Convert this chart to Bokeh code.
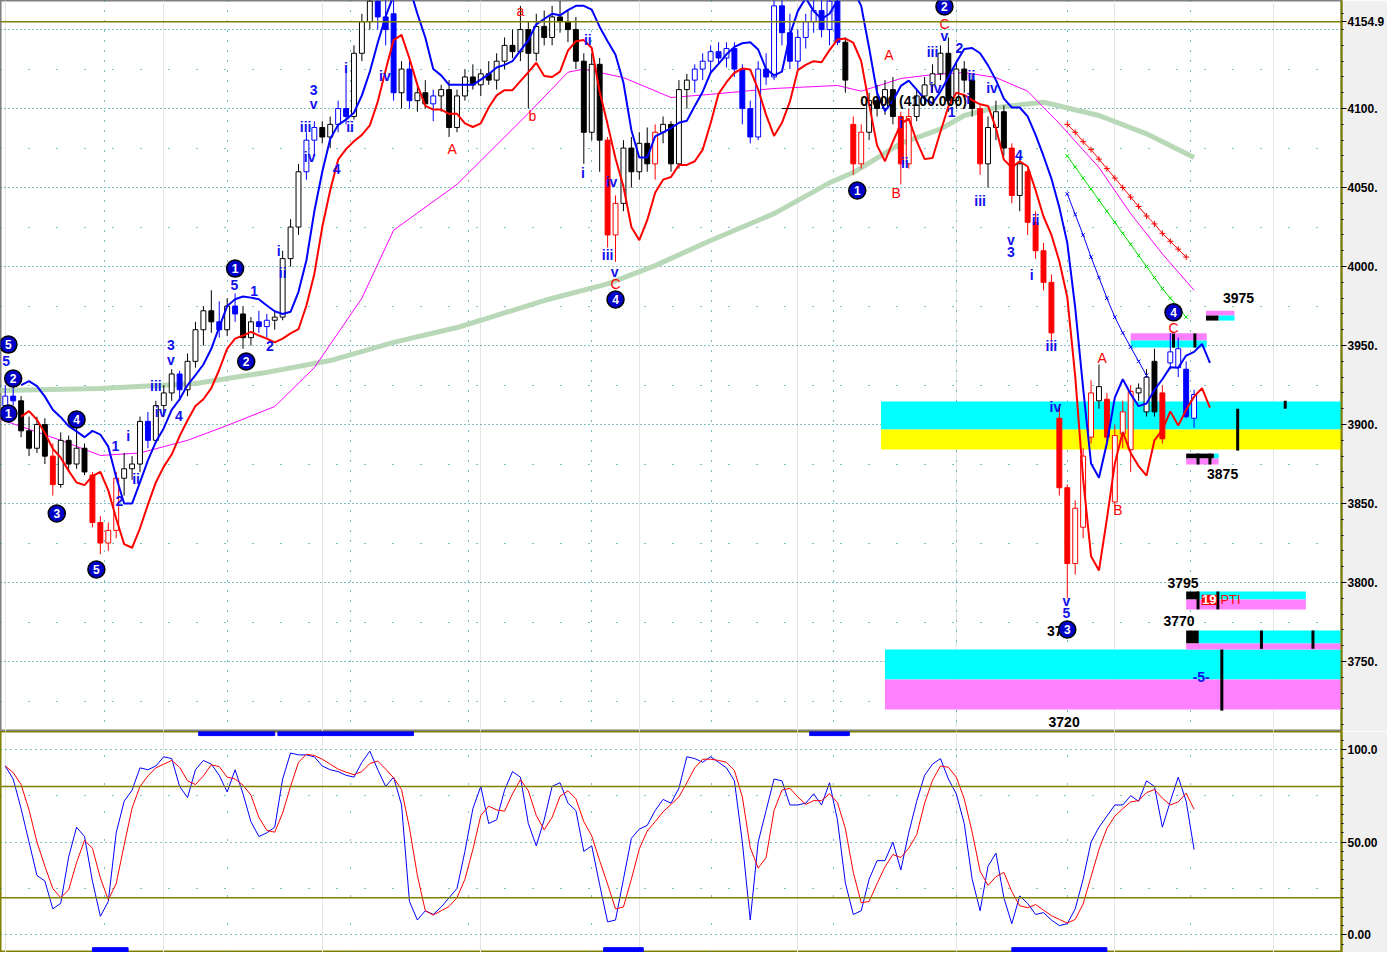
import numpy as np
import pandas as pd
from bokeh.plotting import figure
from bokeh.models import (ColumnDataSource, Range1d, FixedTicker,
                          Span, Grid, SingleIntervalTicker)
from bokeh.layouts import column
from bokeh.embed import file_html
from bokeh.resources import INLINE
from bokeh.core.properties import value

# ---------------- data (bar index = position along the time axis) ----------------
OPEN = [3912,3918,3915,3896,3885,3900,3880,3862,3890,3875,
        3885,3868,3838,3825,3833,3866,3872,3875,3902,3890,
        3912,3920,3932,3922,3940,3960,3972,3965,3960,3975,
        3970,3955,3965,3962,3966,3968,4005,4025,4060,4080,
        4088,4082,4090,4100,4095,4135,4155,4168,4158,4160,
        4110,4125,4105,4110,4103,4108,4112,4088,4108,4120,
        4115,4122,4118,4130,4140,4136,4150,4135,4152,4145,
        4158,4155,4150,4130,4085,4128,4080,4020,4040,4075,
        4060,4078,4065,4085,4090,4065,4112,4118,4125,4130,
        4136,4132,4138,4125,4100,4082,4125,4120,4165,4148,
        4130,4145,4155,4162,4150,4168,4142,4090,4065,4085,
        4105,4100,4112,4095,4065,4095,4108,4115,4122,4135,
        4105,4125,4118,4100,4065,4088,4098,4075,4045,4060,
        4028,4010,3990,3904,3860,3812,3835,3892,3915,3916,
        3851,3894,3884,3920,3908,3940,3920,3939,3936,3935,
        3904]
HIGH = [3925,3930,3918,3905,3905,3904,3888,3895,3893,3900,
        3888,3870,3842,3838,3870,3882,3880,3905,3908,3915,
        3925,3935,3934,3945,3965,3975,3985,3978,3980,3983,
        3975,3968,3972,3970,3972,4010,4030,4065,4085,4092,
        4092,4095,4105,4125,4140,4160,4175,4180,4175,4175,
        4130,4130,4115,4118,4112,4115,4118,4112,4125,4128,
        4125,4130,4135,4145,4150,4165,4155,4160,4162,4165,
        4168,4162,4158,4135,4135,4132,4082,4045,4080,4082,
        4085,4088,4090,4095,4092,4118,4122,4128,4135,4140,
        4142,4142,4142,4128,4105,4130,4135,4175,4175,4160,
        4150,4160,4170,4175,4175,4175,4145,4095,4090,4110,
        4115,4118,4120,4098,4100,4112,4120,4128,4140,4145,
        4130,4130,4122,4102,4095,4105,4102,4078,4070,4062,
        4035,4015,3995,3912,3862,3852,3885,3928,3938,3920,
        3900,3915,3925,3926,3935,3948,3925,3958,3955,3940,
        3922]
LOW = [3905,3912,3892,3880,3882,3875,3855,3860,3870,3872,
       3868,3835,3818,3820,3828,3855,3865,3870,3885,3888,
       3905,3915,3915,3918,3936,3950,3958,3955,3956,3965,
       3948,3950,3958,3955,3960,3966,4000,4020,4055,4070,
       4078,4075,4085,4090,4093,4130,4150,4150,4140,4105,
       4100,4100,4098,4100,4092,4098,4082,4085,4105,4112,
       4108,4115,4112,4125,4132,4130,4100,4130,4140,4140,
       4148,4142,4125,4065,4080,4060,4012,4003,4035,4050,
       4055,4060,4055,4078,4060,4062,4100,4110,4118,4122,
       4128,4126,4120,4090,4078,4080,4115,4118,4140,4125,
       4125,4138,4148,4145,4140,4140,4110,4058,4062,4080,
       4095,4096,4090,4052,4062,4092,4102,4110,4118,4098,
       4100,4110,4095,4058,4050,4080,4070,4040,4035,4020,
       4005,3985,3952,3855,3790,3805,3828,3888,3910,3888,
       3848,3885,3870,3915,3905,3905,3888,3935,3930,3904,
       3898]
CLOSE = [3918,3915,3896,3885,3900,3880,3862,3890,3875,3885,
         3870,3838,3825,3833,3866,3872,3875,3902,3890,3912,
         3920,3932,3922,3940,3960,3972,3965,3960,3975,3970,
         3955,3965,3962,3966,3968,4005,4025,4060,4080,4088,
         4082,4090,4100,4095,4135,4155,4168,4158,4150,4110,
         4125,4105,4110,4103,4108,4112,4088,4108,4120,4115,
         4122,4118,4130,4140,4136,4150,4135,4152,4145,4158,
         4155,4150,4130,4085,4128,4080,4020,4040,4075,4060,
         4078,4065,4085,4090,4065,4112,4118,4125,4130,4136,
         4132,4138,4125,4100,4082,4125,4120,4165,4148,4130,
         4145,4155,4162,4150,4168,4142,4118,4065,4085,4105,
         4100,4112,4095,4065,4095,4108,4115,4122,4135,4105,
         4125,4118,4100,4065,4088,4098,4075,4045,4065,4028,
         4010,3990,3958,3860,3812,3847,3880,3920,3924,3892,
         3893,3908,3921,3923,3930,3908,3891,3946,3948,3905,
         3919]
# candle colour state: b = blue, k = black, r = red
COLOR_CODE = ("bbkkkkrkkk" "krrrrkkkbk" "kkbkkkkbkb" "kkbbkkkkbb" "kkbbkkkbbb"
              "kbkkbkkkkk" "kkkkkkkkkk" "kkkkkkrrkk" "kkrkkkkbbb" "bbbbbbbbbb"
              "bbbbbbkrrk" "kkkrrkkkkk" "kkkrkkkrkr" "rrrrrrrrkr" "rrrkkkrbbb" "b")

# stochastic %K
STOCH_K = [91,84,68,50,32,29,14,17,42,58,
           53,29,10,18,55,72,78,90,89,91,
           96,95,80,74,89,94,92,86,77,89,
           76,61,53,55,58,84,98,97,97,96,
           91,89,88,86,85,93,99,89,80,85,
           70,18,8,13,11,15,20,25,45,68,
           80,60,62,78,88,85,60,48,62,80,
           82,71,67,45,48,27,7,8,30,52,
           57,59,67,73,71,79,96,95,93,96,
           93,90,83,50,8,50,67,84,83,70,
           70,71,76,70,82,62,28,11,13,30,
           40,40,50,35,55,72,86,92,95,84,
           76,60,30,13,37,44,20,6,21,17,
           11,12,8,5,6,14,30,50,58,64,
           70,70,75,72,83,80,58,72,85,72,
           46]

# long moving average (green) and medium moving average (magenta)
GREEN_IDX = [-1, 12, 24, 33, 41, 49, 57, 60, 68, 76, 82, 89, 97, 104, 107, 113, 118, 121, 125, 131, 138, 144, 150]
GREEN_VAL = [3921.5, 3922.8, 3926, 3933, 3940.5, 3952, 3961.4, 3966, 3978.5, 3989, 4000.6, 4016.5,
             4033.5, 4053, 4059.5, 4078, 4087, 4095.6, 4100.6, 4104, 4095.6, 4084, 4069]
MAG_IDX = [-1, 7, 12, 17, 23, 28, 34, 39, 45, 49, 57, 60, 66, 71, 73, 78, 84, 89, 97, 105, 108,
           113, 117, 121, 125, 129, 133, 138, 142, 146, 150]
MAG_VAL = [3904, 3890, 3880.4, 3882, 3890, 3899.4, 3911.4, 3936, 3980, 4023, 4052, 4067, 4097,
           4123, 4125, 4119.6, 4107, 4109, 4112.7, 4114.6, 4111, 4119, 4121.5, 4122.8, 4119.6,
           4111, 4090.5, 4062.7, 4033.5, 4008, 3985]

# projection lines
RED_PROJ_IDX = list(range(134, 150))
RED_PROJ = [4090, 4085, 4079, 4074, 4068, 4062, 4056, 4050, 4044, 4038, 4032, 4027, 4021, 4016, 4011, 4006]
GREEN_PROJ_IDX = list(range(134, 150))
GREEN_PROJ = [4070, 4063, 4056, 4049, 4042, 4035, 4028, 4021, 4014, 4007, 4000, 3993, 3986, 3980, 3974, 3968]
BLUE_PROJ_IDX = list(range(134, 145))
BLUE_PROJ = [4046, 4033, 4020, 4006, 3993, 3980, 3968, 3958, 3949, 3940, 3931]

LAST_HIGH = 4154.9
PRICE_TICKS = [3750, 3800, 3850, 3900, 3950, 4000, 4050, 4100, LAST_HIGH]

# target zones: (left idx, right idx, bottom, top, colour)
ZONES = [
    (110.5, 168.6, 3896.8, 3914.6, "#00ffff"),
    (110.5, 168.6, 3884.2, 3896.8, "#ffff00"),
    (111.0, 168.6, 3738.6, 3757.6, "#00ffff"),
    (111.0, 168.6, 3719.6, 3738.6, "#ff80ff"),
    (142.0, 151.6, 3953.2, 3957.8, "#ff80ff"),
    (142.0, 151.6, 3948.7, 3953.2, "#00ffff"),
    (151.5, 155.1, 3969.0, 3972.0, "#ff80ff"),
    (151.5, 153.1, 3965.8, 3969.0, "#000000"),
    (153.1, 155.1, 3965.8, 3969.0, "#00ffff"),
    (149.0, 152.5, 3878.5, 3881.6, "#000000"),
    (152.5, 153.1, 3878.5, 3881.6, "#00ffff"),
    (149.0, 153.1, 3874.7, 3878.5, "#ff80ff"),
    (149.0, 150.6, 3789.2, 3794.3, "#000000"),
    (150.6, 164.1, 3789.2, 3794.3, "#00ffff"),
    (149.0, 164.1, 3783.0, 3789.2, "#ff80ff"),
    (149.0, 150.6, 3761.4, 3769.6, "#000000"),
    (150.6, 168.6, 3761.4, 3769.6, "#00ffff"),
    (149.0, 168.6, 3757.6, 3761.4, "#ff80ff"),
]
# small black time/price bars: (idx, low, high)
TICKS = [(155.5, 3883.5, 3910), (161.5, 3910, 3915), (147.4, 3948.7, 3957.6), (150.1, 3948.7, 3957.6),
         (150.5, 3874.7, 3881.6), (152, 3874.7, 3881.6), (150.5, 3783, 3794.3), (153, 3783, 3794.3),
         (158.5, 3758, 3769.6), (165, 3758, 3769.6), (153.5, 3718.9, 3757.6)]

# Elliott-wave labels: (text, idx, price)
CIRCLES = [("5", 0.4, 3950.6), ("2", 1.0, 3929.1), ("1", 0.4, 3907.0), ("3", 6.5, 3843.7),
           ("4", 9.0, 3903.2), ("5", 11.5, 3808.2), ("1", 29.0, 3998.7), ("2", 30.4, 3939.9),
           ("4", 77.0, 3979.1), ("1", 107.5, 4048.1), ("2", 118.5, 4164.6), ("3", 134.0, 3770.3),
           ("4", 147.4, 3971.0)]
BLUE_LABELS = [("5", 0.1, 3940.0), ("1", 13.9, 3886.1), ("i", 15.5, 3893.0), ("ii", 16.5, 3865.8),
               ("2", 14.4, 3851.3), ("iii", 19.0, 3924.7), ("iv", 19.6, 3908.2), ("3", 20.9, 3950.6),
               ("v", 20.9, 3941.1), ("4", 21.9, 3905.7), ("5", 28.9, 3988.6), ("1", 31.4, 3984.8),
               ("2", 33.4, 3950.0), ("i", 34.5, 4010.1), ("ii", 35.0, 3996.2), ("iii", 37.9, 4088.6),
               ("iv", 38.4, 4069.6), ("3", 38.9, 4112.0), ("v", 38.9, 4103.2), ("4", 41.8, 4062.0),
               ("i", 43.0, 4125.9), ("ii", 43.5, 4088.6), ("iv", 47.9, 4120.9), ("ii", 73.5, 4143.7),
               ("i", 72.9, 4058.9), ("iv", 76.5, 4053.2), ("iii", 76.0, 4007.6), ("v", 76.9, 3996.8),
               ("i", 113.0, 4091.1), ("ii", 113.5, 4065.8), ("iii", 117.0, 4136.1), ("iv", 117.4, 4113.3),
               ("v", 118.5, 4146.2), ("2", 120.4, 4138.6), ("1", 119.4, 4098.1), ("ii", 121.9, 4120.9),
               ("i", 121.5, 4106.3), ("iv", 124.5, 4113.3), ("4", 127.9, 4070.9), ("iii", 123.0, 4041.8),
               ("v", 126.9, 4017.1), ("3", 126.9, 4009.5), ("ii", 130.0, 4029.7), ("i", 129.5, 3994.9),
               ("iii", 132.0, 3950.0), ("iv", 132.5, 3910.8), ("v", 133.9, 3788.0), ("5", 133.9, 3780.4),
               ("-5-", 150.9, 3739.9)]
RED_LABELS = [("A", 56.4, 4074.7), ("a", 65.0, 4162.0), ("b", 66.5, 4095.6), ("C", 77.0, 3989.2),
              ("A", 111.5, 4134.2), ("B", 112.4, 4046.8), ("C", 118.5, 4153.8), ("A", 138.4, 3941.8),
              ("B", 140.4, 3846.2), ("C", 147.4, 3960.8)]
BLACK_LABELS = [("3975", 155.6, 3980.4), ("3875", 153.6, 3868.4), ("3795", 148.6, 3800.0),
                ("3770", 148.1, 3775.9), ("3720", 133.6, 3712.0), ("373", 132.9, 3769.6)]
FIB_TEXT = ("0.000 (4100.000)", 114.6, 4105.1)
FIB_LINE = (98.0, 108.5, 4100.0)

VGRID = [12.5, 28, 43.5, 58.5, 74, 89.1, 104.5, 120, 134, 149.5]
OSC_TOP_BARS = [(24.4, 34.0), (34.4, 51.5), (101.5, 106.5)]
OSC_BOTTOM_BARS = [(11.0, 15.5), (75.5, 80.5), (127.0, 139.0)]

# ---------------- build ----------------
FONT = "Liberation Sans"
W = 1387
X0, X1 = -0.6, 168.6
N = len(CLOSE)
idx = np.arange(N)

o = np.array(OPEN, float); h = np.array(HIGH, float); l = np.array(LOW, float); c = np.array(CLOSE, float)
cmap = {"b": "#0000ff", "k": "#000000", "r": "#ff0000"}
cols = [cmap[ch] for ch in COLOR_CODE[:N]]
fills = [col if cc < oo else "#ffffff" for col, cc, oo in zip(cols, c, o)]
csrc = ColumnDataSource(dict(x=idx, o=o, h=h, l=l, c=c, top=np.maximum(o, c), bot=np.minimum(o, c),
                             col=cols, fill=fills))

blue_band = pd.Series(h).rolling(3, min_periods=1).mean().values
red_band = pd.Series(l).rolling(3, min_periods=1).mean().values
band_x = idx + 2


def style_axis(ax):
    ax.axis_line_color = "#808000"
    ax.axis_line_width = 2
    ax.major_tick_in = 0
    ax.major_tick_out = 5
    ax.minor_tick_in = 0
    ax.minor_tick_out = 2
    ax.major_tick_line_color = "black"
    ax.minor_tick_line_color = "black"
    ax.major_label_text_font = FONT
    ax.major_label_text_font_style = "bold"
    ax.major_label_text_font_size = "12px"
    ax.major_label_standoff = 1
    ax.major_label_text_color = "black"


p = figure(width=W, height=731, x_range=Range1d(X0, X1), y_range=Range1d(3705.7, 4168.4),
           output_backend="svg", toolbar_location=None, x_axis_location=None, y_axis_location="right",
           min_border_left=0, min_border_right=0, min_border_top=0, min_border_bottom=0)
p.background_fill_color = "white"
p.border_fill_color = "#f0f0f0"
p.outline_line_color = "#808080"
p.outline_line_width = 2
for g in p.ygrid:
    g.visible = False

p.yaxis.ticker = FixedTicker(ticks=PRICE_TICKS, minor_ticks=list(range(3710, 4170, 10)))
p.yaxis.major_label_overrides = {t: ("%d." % t if t != LAST_HIGH else "4154.9") for t in PRICE_TICKS}
style_axis(p.yaxis)

p.add_layout(Grid(dimension=1, ticker=SingleIntervalTicker(interval=50),
                  grid_line_color="#008080", grid_line_dash="1 3", grid_line_width=1))
p.add_layout(Grid(dimension=1, ticker=FixedTicker(ticks=list(np.arange(3725, 4200, 50))),
                  grid_line_color="#008080", grid_line_dash="1 27", grid_line_width=1))
p.add_layout(Grid(dimension=0, ticker=FixedTicker(ticks=VGRID),
                  grid_line_color="#008080", grid_line_dash="1 9", grid_line_width=1))

# zones
p.quad(left=[z[0] for z in ZONES], right=[z[1] for z in ZONES], bottom=[z[2] for z in ZONES],
       top=[z[3] for z in ZONES], fill_color=[z[4] for z in ZONES], line_color=None)

p.add_layout(Span(location=LAST_HIGH, dimension="width", line_color="#808000", line_width=1.5))

# moving averages
p.line(GREEN_IDX, GREEN_VAL, line_width=5, color="#b8d8b8")
p.line(MAG_IDX, MAG_VAL, line_width=1, color="#ff00ff")

# candles
p.segment(x0="x", y0="l", x1="x", y1="h", color="col", line_width=1, source=csrc)
p.vbar(x="x", width=0.62, top="top", bottom="bot", fill_color="fill", line_color="col",
       line_width=1, source=csrc)

# bands
p.line(band_x, blue_band, color="#0000ff", line_width=2)
p.line(band_x, red_band, color="#ff0000", line_width=2)

# projections
p.line(RED_PROJ_IDX, RED_PROJ, color="#ff0000", line_width=1)
p.scatter(RED_PROJ_IDX, RED_PROJ, marker="cross", size=6, line_color="#ff0000")
p.line(GREEN_PROJ_IDX, GREEN_PROJ, color="#00dd00", line_width=1)
p.scatter(GREEN_PROJ_IDX, GREEN_PROJ, marker="x", size=5, line_color="#00dd00")
p.line(BLUE_PROJ_IDX, BLUE_PROJ, color="#0000ff", line_width=1)
p.scatter(BLUE_PROJ_IDX, BLUE_PROJ, marker="x", size=5, line_color="#0000ff")

# time/price bars
p.segment(x0=[t[0] for t in TICKS], y0=[t[1] for t in TICKS], x1=[t[0] for t in TICKS],
          y1=[t[2] for t in TICKS], color="black", line_width=3)

# fib line + text
p.segment(x0=[FIB_LINE[0]], y0=[FIB_LINE[2]], x1=[FIB_LINE[1]], y1=[FIB_LINE[2]], color="black", line_width=1)
p.text(x=[FIB_TEXT[1]], y=[FIB_TEXT[2]], text=[FIB_TEXT[0]], text_color="black",
       text_font=value(FONT), text_font_size="14px", text_font_style="bold",
       text_align="center", text_baseline="middle")


def put_text(items, color, size="14px", style="bold", align="center"):
    src = ColumnDataSource(dict(x=[t[1] for t in items], y=[t[2] for t in items], t=[t[0] for t in items]))
    p.text(x="x", y="y", text="t", source=src, text_color=color, text_font=value(FONT),
           text_font_size=size, text_font_style=style, text_align=align, text_baseline="middle")


put_text(BLUE_LABELS, "#1010f0", size="14px", style="bold")
put_text(RED_LABELS, "#ff0000", size="14px", style="normal")
put_text(BLACK_LABELS, "black", size="14px", style="bold")

# PTI marker
p.rect(x=[151.9], y=[3789.0], width=1.9, height=6.5, fill_color="#ff0000", line_color=None)
p.text(x=[151.9], y=[3789.0], text=["19"], text_color="white", text_font=value(FONT),
       text_font_size="13px", text_font_style="bold", text_align="center", text_baseline="middle")
p.text(x=[154.6], y=[3789.0], text=["PTI"], text_color="#ff0000", text_font=value(FONT),
       text_font_size="13px", text_font_style="normal", text_align="center", text_baseline="middle")

# wave circles
p.scatter([t[1] for t in CIRCLES], [t[2] for t in CIRCLES], marker="circle", size=17,
          fill_color="#0000c8", line_color="black", line_width=1.5)
src_c = ColumnDataSource(dict(x=[t[1] for t in CIRCLES], y=[t[2] for t in CIRCLES], t=[t[0] for t in CIRCLES]))
p.text(x="x", y="y", text="t", source=src_c, text_color="white", text_font=value(FONT),
       text_font_size="12px", text_font_style="bold", text_align="center", text_baseline="middle")

# ---------------- oscillator ----------------
k = np.array(STOCH_K, float)
d = pd.Series(k).rolling(3, min_periods=1).mean().values

q = figure(width=W, height=221, x_range=p.x_range, y_range=Range1d(-9.5, 109.6),
           output_backend="svg", toolbar_location=None, x_axis_location=None, y_axis_location="right",
           min_border_left=0, min_border_right=0, min_border_top=0, min_border_bottom=0)
q.background_fill_color = "white"
q.border_fill_color = "#f0f0f0"
q.outline_line_color = "#808000"
q.outline_line_width = 2
for g in q.ygrid:
    g.visible = False
q.yaxis.ticker = FixedTicker(ticks=[0, 50, 100], minor_ticks=list(range(-5, 110, 5)))
q.yaxis.major_label_overrides = {0: "0.00", 50: "50.00", 100: "100.0"}
style_axis(q.yaxis)

q.add_layout(Grid(dimension=1, ticker=FixedTicker(ticks=[0, 50, 100]),
                  grid_line_color="#008080", grid_line_dash="1 4"))
q.add_layout(Grid(dimension=1, ticker=FixedTicker(ticks=[25, 75]),
                  grid_line_color="#008080", grid_line_dash="1 27"))
q.add_layout(Grid(dimension=0, ticker=FixedTicker(ticks=VGRID),
                  grid_line_color="#008080", grid_line_dash="1 27"))
q.add_layout(Span(location=80, dimension="width", line_color="#808000", line_width=1.5))
q.add_layout(Span(location=20, dimension="width", line_color="#808000", line_width=1.5))

q.quad(left=[b[0] for b in OSC_TOP_BARS], right=[b[1] for b in OSC_TOP_BARS],
       bottom=107.4, top=109.6, color="#0000ff")
q.quad(left=[b[0] for b in OSC_BOTTOM_BARS], right=[b[1] for b in OSC_BOTTOM_BARS],
       bottom=-9.0, top=-6.9, color="#0000ff")

q.line(idx, k, color="#0000ff", line_width=1)
q.line(idx, d, color="#ff0000", line_width=1)

layout = column(p, q, spacing=0)
open("out.html", "w").write(file_html(layout, INLINE))
